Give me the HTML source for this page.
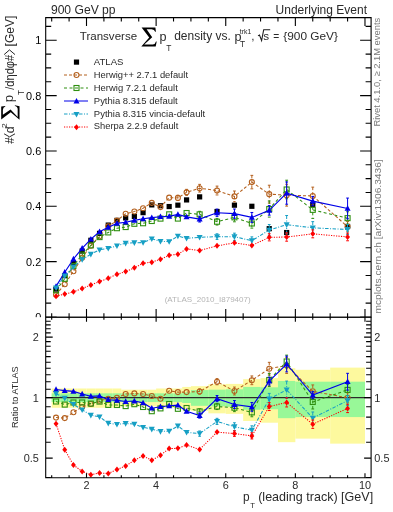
<!DOCTYPE html>
<html><head><meta charset="utf-8"><style>html,body{margin:0;padding:0;background:#fff;width:393px;height:512px;overflow:hidden}</style></head><body><svg width="393" height="512" viewBox="0 0 393 512" style="display:block;will-change:transform" font-family="&quot;Liberation Sans&quot;, sans-serif" fill="#2a2a2a">
<rect width="393" height="512" fill="#fff"/>
<rect x="53.44" y="286.49" width="5.2" height="5.2" fill="#000"/>
<rect x="62.14" y="273.08" width="5.2" height="5.2" fill="#000"/>
<rect x="70.85" y="260.36" width="5.2" height="5.2" fill="#000"/>
<rect x="79.55" y="248.47" width="5.2" height="5.2" fill="#000"/>
<rect x="88.25" y="237.69" width="5.2" height="5.2" fill="#000"/>
<rect x="96.95" y="230.77" width="5.2" height="5.2" fill="#000"/>
<rect x="105.66" y="222.48" width="5.2" height="5.2" fill="#000"/>
<rect x="114.36" y="217.78" width="5.2" height="5.2" fill="#000"/>
<rect x="123.06" y="215.29" width="5.2" height="5.2" fill="#000"/>
<rect x="131.76" y="213.91" width="5.2" height="5.2" fill="#000"/>
<rect x="140.47" y="210.04" width="5.2" height="5.2" fill="#000"/>
<rect x="149.17" y="202.29" width="5.2" height="5.2" fill="#000"/>
<rect x="157.87" y="203.12" width="5.2" height="5.2" fill="#000"/>
<rect x="166.57" y="203.95" width="5.2" height="5.2" fill="#000"/>
<rect x="175.28" y="202.57" width="5.2" height="5.2" fill="#000"/>
<rect x="183.98" y="197.32" width="5.2" height="5.2" fill="#000"/>
<rect x="197.03" y="194.28" width="5.2" height="5.2" fill="#000"/>
<rect x="214.44" y="208.93" width="5.2" height="5.2" fill="#000"/>
<rect x="231.84" y="202.57" width="5.2" height="5.2" fill="#000"/>
<rect x="249.25" y="203.68" width="5.2" height="5.2" fill="#000"/>
<rect x="266.65" y="226.07" width="5.2" height="5.2" fill="#000"/>
<rect x="284.06" y="229.94" width="5.2" height="5.2" fill="#000"/>
<rect x="310.16" y="201.74" width="5.2" height="5.2" fill="#000"/>
<rect x="344.98" y="223.86" width="5.2" height="5.2" fill="#000"/>
<polyline points="56.04,294.72 64.74,284.24 73.45,271.22 82.15,257.76 90.85,245.68 99.55,236.28 108.26,226.33 116.96,220.60 125.66,213.73 134.36,211.57 143.07,208.26 151.77,202.83 160.47,207.11 169.17,197.64 177.88,197.92 186.58,192.33 199.63,188.21 217.04,190.54 234.44,196.42 251.85,182.09 269.25,194.16 286.66,195.18 312.76,195.94 347.58,226.67" fill="none" stroke="#b4601e" stroke-width="1.05" stroke-dasharray="3,2"/>
<circle cx="56.04" cy="294.72" r="2.5" fill="none" stroke="#b4601e" stroke-width="1.1"/>
<circle cx="64.74" cy="284.24" r="2.5" fill="none" stroke="#b4601e" stroke-width="1.1"/>
<circle cx="73.45" cy="271.22" r="2.5" fill="none" stroke="#b4601e" stroke-width="1.1"/>
<circle cx="82.15" cy="257.76" r="2.5" fill="none" stroke="#b4601e" stroke-width="1.1"/>
<circle cx="90.85" cy="245.68" r="2.5" fill="none" stroke="#b4601e" stroke-width="1.1"/>
<circle cx="99.55" cy="236.28" r="2.5" fill="none" stroke="#b4601e" stroke-width="1.1"/>
<circle cx="108.26" cy="226.33" r="2.5" fill="none" stroke="#b4601e" stroke-width="1.1"/>
<circle cx="116.96" cy="220.60" r="2.5" fill="none" stroke="#b4601e" stroke-width="1.1"/>
<circle cx="125.66" cy="213.73" r="2.5" fill="none" stroke="#b4601e" stroke-width="1.1"/>
<circle cx="134.36" cy="211.57" r="2.5" fill="none" stroke="#b4601e" stroke-width="1.1"/>
<circle cx="143.07" cy="208.26" r="2.5" fill="none" stroke="#b4601e" stroke-width="1.1"/>
<circle cx="151.77" cy="202.83" r="2.5" fill="none" stroke="#b4601e" stroke-width="1.1"/>
<circle cx="160.47" cy="207.11" r="2.5" fill="none" stroke="#b4601e" stroke-width="1.1"/>
<circle cx="169.17" cy="197.64" r="2.5" fill="none" stroke="#b4601e" stroke-width="1.1"/>
<path d="M177.88,195.31V200.53" stroke="#b4601e" stroke-width="1" stroke-dasharray="3,2"/>
<path d="M176.48,195.31H179.28M176.48,200.53H179.28" stroke="#b4601e" stroke-width="1"/>
<circle cx="177.88" cy="197.92" r="2.5" fill="none" stroke="#b4601e" stroke-width="1.1"/>
<path d="M186.58,189.35V195.31" stroke="#b4601e" stroke-width="1" stroke-dasharray="3,2"/>
<path d="M185.18,189.35H187.98M185.18,195.31H187.98" stroke="#b4601e" stroke-width="1"/>
<circle cx="186.58" cy="192.33" r="2.5" fill="none" stroke="#b4601e" stroke-width="1.1"/>
<path d="M199.63,184.36V192.06" stroke="#b4601e" stroke-width="1" stroke-dasharray="3,2"/>
<path d="M198.23,184.36H201.03M198.23,192.06H201.03" stroke="#b4601e" stroke-width="1"/>
<circle cx="199.63" cy="188.21" r="2.5" fill="none" stroke="#b4601e" stroke-width="1.1"/>
<path d="M217.04,186.12V194.95" stroke="#b4601e" stroke-width="1" stroke-dasharray="3,2"/>
<path d="M215.64,186.12H218.44M215.64,194.95H218.44" stroke="#b4601e" stroke-width="1"/>
<circle cx="217.04" cy="190.54" r="2.5" fill="none" stroke="#b4601e" stroke-width="1.1"/>
<path d="M234.44,191.01V201.83" stroke="#b4601e" stroke-width="1" stroke-dasharray="3,2"/>
<path d="M233.04,191.01H235.84M233.04,201.83H235.84" stroke="#b4601e" stroke-width="1"/>
<circle cx="234.44" cy="196.42" r="2.5" fill="none" stroke="#b4601e" stroke-width="1.1"/>
<path d="M251.85,175.37V188.82" stroke="#b4601e" stroke-width="1" stroke-dasharray="3,2"/>
<path d="M250.45,175.37H253.25M250.45,188.82H253.25" stroke="#b4601e" stroke-width="1"/>
<circle cx="251.85" cy="182.09" r="2.5" fill="none" stroke="#b4601e" stroke-width="1.1"/>
<path d="M269.25,185.22V203.10" stroke="#b4601e" stroke-width="1" stroke-dasharray="3,2"/>
<path d="M267.85,185.22H270.65M267.85,203.10H270.65" stroke="#b4601e" stroke-width="1"/>
<circle cx="269.25" cy="194.16" r="2.5" fill="none" stroke="#b4601e" stroke-width="1.1"/>
<path d="M286.66,184.25V206.11" stroke="#b4601e" stroke-width="1" stroke-dasharray="3,2"/>
<path d="M285.26,184.25H288.06M285.26,206.11H288.06" stroke="#b4601e" stroke-width="1"/>
<circle cx="286.66" cy="195.18" r="2.5" fill="none" stroke="#b4601e" stroke-width="1.1"/>
<path d="M312.76,187.13V204.75" stroke="#b4601e" stroke-width="1" stroke-dasharray="3,2"/>
<path d="M311.37,187.13H314.16M311.37,204.75H314.16" stroke="#b4601e" stroke-width="1"/>
<circle cx="312.76" cy="195.94" r="2.5" fill="none" stroke="#b4601e" stroke-width="1.1"/>
<path d="M347.58,221.54V231.79" stroke="#b4601e" stroke-width="1" stroke-dasharray="3,2"/>
<path d="M346.18,221.54H348.98M346.18,231.79H348.98" stroke="#b4601e" stroke-width="1"/>
<circle cx="347.58" cy="226.67" r="2.5" fill="none" stroke="#b4601e" stroke-width="1.1"/>
<polyline points="56.04,290.29 64.74,278.83 73.45,265.89 82.15,254.65 90.85,245.36 99.55,237.10 108.26,232.42 116.96,228.20 125.66,227.05 134.36,223.80 143.07,223.25 151.77,221.01 160.47,218.63 169.17,214.33 177.88,218.59 186.58,213.02 199.63,214.38 217.04,221.72 234.44,217.35 251.85,223.48 269.25,209.03 286.66,189.49 312.76,209.86 347.58,218.15" fill="none" stroke="#2f8f10" stroke-width="1.05" stroke-dasharray="3,2.5"/>
<rect x="53.54" y="287.79" width="5" height="5" fill="none" stroke="#2f8f10" stroke-width="1.1"/>
<rect x="62.24" y="276.33" width="5" height="5" fill="none" stroke="#2f8f10" stroke-width="1.1"/>
<rect x="70.95" y="263.39" width="5" height="5" fill="none" stroke="#2f8f10" stroke-width="1.1"/>
<rect x="79.65" y="252.15" width="5" height="5" fill="none" stroke="#2f8f10" stroke-width="1.1"/>
<rect x="88.35" y="242.86" width="5" height="5" fill="none" stroke="#2f8f10" stroke-width="1.1"/>
<rect x="97.05" y="234.60" width="5" height="5" fill="none" stroke="#2f8f10" stroke-width="1.1"/>
<rect x="105.76" y="229.92" width="5" height="5" fill="none" stroke="#2f8f10" stroke-width="1.1"/>
<rect x="114.46" y="225.70" width="5" height="5" fill="none" stroke="#2f8f10" stroke-width="1.1"/>
<rect x="123.16" y="224.55" width="5" height="5" fill="none" stroke="#2f8f10" stroke-width="1.1"/>
<rect x="131.86" y="221.30" width="5" height="5" fill="none" stroke="#2f8f10" stroke-width="1.1"/>
<rect x="140.57" y="220.75" width="5" height="5" fill="none" stroke="#2f8f10" stroke-width="1.1"/>
<rect x="149.27" y="218.51" width="5" height="5" fill="none" stroke="#2f8f10" stroke-width="1.1"/>
<rect x="157.97" y="216.13" width="5" height="5" fill="none" stroke="#2f8f10" stroke-width="1.1"/>
<rect x="166.67" y="211.83" width="5" height="5" fill="none" stroke="#2f8f10" stroke-width="1.1"/>
<rect x="175.38" y="216.09" width="5" height="5" fill="none" stroke="#2f8f10" stroke-width="1.1"/>
<rect x="184.08" y="210.52" width="5" height="5" fill="none" stroke="#2f8f10" stroke-width="1.1"/>
<path d="M199.63,211.32V217.45" stroke="#2f8f10" stroke-width="1" stroke-dasharray="3,2.5"/>
<path d="M198.23,211.32H201.03M198.23,217.45H201.03" stroke="#2f8f10" stroke-width="1"/>
<rect x="197.13" y="211.88" width="5" height="5" fill="none" stroke="#2f8f10" stroke-width="1.1"/>
<path d="M217.04,218.39V225.04" stroke="#2f8f10" stroke-width="1" stroke-dasharray="3,2.5"/>
<path d="M215.64,218.39H218.44M215.64,225.04H218.44" stroke="#2f8f10" stroke-width="1"/>
<rect x="214.54" y="219.22" width="5" height="5" fill="none" stroke="#2f8f10" stroke-width="1.1"/>
<path d="M234.44,212.88V221.81" stroke="#2f8f10" stroke-width="1" stroke-dasharray="3,2.5"/>
<path d="M233.04,212.88H235.84M233.04,221.81H235.84" stroke="#2f8f10" stroke-width="1"/>
<rect x="231.94" y="214.85" width="5" height="5" fill="none" stroke="#2f8f10" stroke-width="1.1"/>
<path d="M251.85,218.83V228.14" stroke="#2f8f10" stroke-width="1" stroke-dasharray="3,2.5"/>
<path d="M250.45,218.83H253.25M250.45,228.14H253.25" stroke="#2f8f10" stroke-width="1"/>
<rect x="249.35" y="220.98" width="5" height="5" fill="none" stroke="#2f8f10" stroke-width="1.1"/>
<path d="M269.25,200.96V217.10" stroke="#2f8f10" stroke-width="1" stroke-dasharray="3,2.5"/>
<path d="M267.85,200.96H270.65M267.85,217.10H270.65" stroke="#2f8f10" stroke-width="1"/>
<rect x="266.75" y="206.53" width="5" height="5" fill="none" stroke="#2f8f10" stroke-width="1.1"/>
<path d="M286.66,180.21V198.77" stroke="#2f8f10" stroke-width="1" stroke-dasharray="3,2.5"/>
<path d="M285.26,180.21H288.06M285.26,198.77H288.06" stroke="#2f8f10" stroke-width="1"/>
<rect x="284.16" y="186.99" width="5" height="5" fill="none" stroke="#2f8f10" stroke-width="1.1"/>
<path d="M312.76,201.32V218.40" stroke="#2f8f10" stroke-width="1" stroke-dasharray="3,2.5"/>
<path d="M311.37,201.32H314.16M311.37,218.40H314.16" stroke="#2f8f10" stroke-width="1"/>
<rect x="310.26" y="207.36" width="5" height="5" fill="none" stroke="#2f8f10" stroke-width="1.1"/>
<path d="M347.58,211.75V224.55" stroke="#2f8f10" stroke-width="1" stroke-dasharray="3,2.5"/>
<path d="M346.18,211.75H348.98M346.18,224.55H348.98" stroke="#2f8f10" stroke-width="1"/>
<rect x="345.08" y="215.65" width="5" height="5" fill="none" stroke="#2f8f10" stroke-width="1.1"/>
<polyline points="56.04,286.41 64.74,272.26 73.45,259.01 82.15,248.31 90.85,239.14 99.55,231.74 108.26,227.25 116.96,223.42 125.66,222.20 134.36,220.33 143.07,218.76 151.77,217.67 160.47,216.70 169.17,216.42 177.88,214.46 186.58,216.87 199.63,219.07 217.04,212.73 234.44,213.64 251.85,217.43 269.25,210.38 286.66,193.08 312.76,201.08 347.58,208.45" fill="none" stroke="#0000e8" stroke-width="1.15"/>
<path d="M56.04,283.21 L59.04,288.81 L53.04,288.81Z" fill="#0000e8"/>
<path d="M64.74,269.06 L67.74,274.66 L61.74,274.66Z" fill="#0000e8"/>
<path d="M73.45,255.81 L76.45,261.41 L70.45,261.41Z" fill="#0000e8"/>
<path d="M82.15,245.11 L85.15,250.71 L79.15,250.71Z" fill="#0000e8"/>
<path d="M90.85,235.94 L93.85,241.54 L87.85,241.54Z" fill="#0000e8"/>
<path d="M99.55,228.54 L102.55,234.14 L96.55,234.14Z" fill="#0000e8"/>
<path d="M108.26,224.05 L111.26,229.65 L105.26,229.65Z" fill="#0000e8"/>
<path d="M116.96,220.22 L119.96,225.82 L113.96,225.82Z" fill="#0000e8"/>
<path d="M125.66,219.00 L128.66,224.60 L122.66,224.60Z" fill="#0000e8"/>
<path d="M134.36,217.13 L137.36,222.73 L131.36,222.73Z" fill="#0000e8"/>
<path d="M143.07,215.56 L146.07,221.16 L140.07,221.16Z" fill="#0000e8"/>
<path d="M151.77,214.47 L154.77,220.07 L148.77,220.07Z" fill="#0000e8"/>
<path d="M160.47,213.50 L163.47,219.10 L157.47,219.10Z" fill="#0000e8"/>
<path d="M169.17,213.22 L172.17,218.82 L166.17,218.82Z" fill="#0000e8"/>
<path d="M177.88,211.26 L180.88,216.86 L174.88,216.86Z" fill="#0000e8"/>
<path d="M186.58,213.67 L189.58,219.27 L183.58,219.27Z" fill="#0000e8"/>
<path d="M199.63,216.15V222.00" stroke="#0000e8" stroke-width="1"/>
<path d="M198.23,216.15H201.03M198.23,222.00H201.03" stroke="#0000e8" stroke-width="1"/>
<path d="M199.63,215.87 L202.63,221.47 L196.63,221.47Z" fill="#0000e8"/>
<path d="M217.04,209.09V216.36" stroke="#0000e8" stroke-width="1"/>
<path d="M215.64,209.09H218.44M215.64,216.36H218.44" stroke="#0000e8" stroke-width="1"/>
<path d="M217.04,209.53 L220.04,215.13 L214.04,215.13Z" fill="#0000e8"/>
<path d="M234.44,209.01V218.27" stroke="#0000e8" stroke-width="1"/>
<path d="M233.04,209.01H235.84M233.04,218.27H235.84" stroke="#0000e8" stroke-width="1"/>
<path d="M234.44,210.44 L237.44,216.04 L231.44,216.04Z" fill="#0000e8"/>
<path d="M251.85,212.47V222.39" stroke="#0000e8" stroke-width="1"/>
<path d="M250.45,212.47H253.25M250.45,222.39H253.25" stroke="#0000e8" stroke-width="1"/>
<path d="M251.85,214.23 L254.85,219.83 L248.85,219.83Z" fill="#0000e8"/>
<path d="M269.25,205.60V215.16" stroke="#0000e8" stroke-width="1"/>
<path d="M267.85,205.60H270.65M267.85,215.16H270.65" stroke="#0000e8" stroke-width="1"/>
<path d="M269.25,207.18 L272.25,212.78 L266.25,212.78Z" fill="#0000e8"/>
<path d="M286.66,181.96V204.19" stroke="#0000e8" stroke-width="1"/>
<path d="M285.26,181.96H288.06M285.26,204.19H288.06" stroke="#0000e8" stroke-width="1"/>
<path d="M286.66,189.88 L289.66,195.48 L283.66,195.48Z" fill="#0000e8"/>
<path d="M312.76,196.46V205.70" stroke="#0000e8" stroke-width="1"/>
<path d="M311.37,196.46H314.16M311.37,205.70H314.16" stroke="#0000e8" stroke-width="1"/>
<path d="M312.76,197.88 L315.76,203.48 L309.76,203.48Z" fill="#0000e8"/>
<path d="M347.58,198.07V218.83" stroke="#0000e8" stroke-width="1"/>
<path d="M346.18,198.07H348.98M346.18,218.83H348.98" stroke="#0000e8" stroke-width="1"/>
<path d="M347.58,205.25 L350.58,210.85 L344.58,210.85Z" fill="#0000e8"/>
<polyline points="56.04,287.83 64.74,275.96 73.45,266.98 82.15,259.62 90.85,254.22 99.55,249.81 108.26,248.34 116.96,245.82 125.66,243.23 134.36,242.72 143.07,242.62 151.77,238.82 160.47,241.41 169.17,241.63 177.88,236.12 186.58,238.28 199.63,237.34 217.04,236.61 234.44,236.76 251.85,240.66 269.25,230.07 286.66,224.69 312.76,227.84 347.58,229.51" fill="none" stroke="#169fc4" stroke-width="1.05" stroke-dasharray="3.5,1.5,1,1.5"/>
<path d="M56.04,291.03 L59.04,285.43 L53.04,285.43Z" fill="#169fc4"/>
<path d="M64.74,279.16 L67.74,273.56 L61.74,273.56Z" fill="#169fc4"/>
<path d="M73.45,270.18 L76.45,264.58 L70.45,264.58Z" fill="#169fc4"/>
<path d="M82.15,262.82 L85.15,257.22 L79.15,257.22Z" fill="#169fc4"/>
<path d="M90.85,257.42 L93.85,251.82 L87.85,251.82Z" fill="#169fc4"/>
<path d="M99.55,253.01 L102.55,247.41 L96.55,247.41Z" fill="#169fc4"/>
<path d="M108.26,251.54 L111.26,245.94 L105.26,245.94Z" fill="#169fc4"/>
<path d="M116.96,249.02 L119.96,243.42 L113.96,243.42Z" fill="#169fc4"/>
<path d="M125.66,246.43 L128.66,240.83 L122.66,240.83Z" fill="#169fc4"/>
<path d="M134.36,245.92 L137.36,240.32 L131.36,240.32Z" fill="#169fc4"/>
<path d="M143.07,245.82 L146.07,240.22 L140.07,240.22Z" fill="#169fc4"/>
<path d="M151.77,242.02 L154.77,236.42 L148.77,236.42Z" fill="#169fc4"/>
<path d="M160.47,244.61 L163.47,239.01 L157.47,239.01Z" fill="#169fc4"/>
<path d="M169.17,244.83 L172.17,239.23 L166.17,239.23Z" fill="#169fc4"/>
<path d="M177.88,239.32 L180.88,233.72 L174.88,233.72Z" fill="#169fc4"/>
<path d="M186.58,241.48 L189.58,235.88 L183.58,235.88Z" fill="#169fc4"/>
<path d="M199.63,240.54 L202.63,234.94 L196.63,234.94Z" fill="#169fc4"/>
<path d="M217.04,233.81V239.41" stroke="#169fc4" stroke-width="1" stroke-dasharray="3.5,1.5,1,1.5"/>
<path d="M215.64,233.81H218.44M215.64,239.41H218.44" stroke="#169fc4" stroke-width="1"/>
<path d="M217.04,239.81 L220.04,234.21 L214.04,234.21Z" fill="#169fc4"/>
<path d="M234.44,233.17V240.36" stroke="#169fc4" stroke-width="1" stroke-dasharray="3.5,1.5,1,1.5"/>
<path d="M233.04,233.17H235.84M233.04,240.36H235.84" stroke="#169fc4" stroke-width="1"/>
<path d="M234.44,239.96 L237.44,234.36 L231.44,234.36Z" fill="#169fc4"/>
<path d="M251.85,236.86V244.46" stroke="#169fc4" stroke-width="1" stroke-dasharray="3.5,1.5,1,1.5"/>
<path d="M250.45,236.86H253.25M250.45,244.46H253.25" stroke="#169fc4" stroke-width="1"/>
<path d="M251.85,243.86 L254.85,238.26 L248.85,238.26Z" fill="#169fc4"/>
<path d="M269.25,224.53V235.61" stroke="#169fc4" stroke-width="1" stroke-dasharray="3.5,1.5,1,1.5"/>
<path d="M267.85,224.53H270.65M267.85,235.61H270.65" stroke="#169fc4" stroke-width="1"/>
<path d="M269.25,233.27 L272.25,227.67 L266.25,227.67Z" fill="#169fc4"/>
<path d="M286.66,215.50V233.88" stroke="#169fc4" stroke-width="1" stroke-dasharray="3.5,1.5,1,1.5"/>
<path d="M285.26,215.50H288.06M285.26,233.88H288.06" stroke="#169fc4" stroke-width="1"/>
<path d="M286.66,227.89 L289.66,222.29 L283.66,222.29Z" fill="#169fc4"/>
<path d="M312.76,221.63V234.05" stroke="#169fc4" stroke-width="1" stroke-dasharray="3.5,1.5,1,1.5"/>
<path d="M311.37,221.63H314.16M311.37,234.05H314.16" stroke="#169fc4" stroke-width="1"/>
<path d="M312.76,231.04 L315.76,225.44 L309.76,225.44Z" fill="#169fc4"/>
<path d="M347.58,224.54V234.47" stroke="#169fc4" stroke-width="1" stroke-dasharray="3.5,1.5,1,1.5"/>
<path d="M346.18,224.54H348.98M346.18,234.47H348.98" stroke="#169fc4" stroke-width="1"/>
<path d="M347.58,232.71 L350.58,227.11 L344.58,227.11Z" fill="#169fc4"/>
<polyline points="56.04,296.22 64.74,294.07 73.45,291.82 82.15,288.50 90.85,285.05 99.55,281.56 108.26,278.24 116.96,274.33 125.66,271.52 134.36,267.80 143.07,263.29 151.77,262.14 160.47,259.35 169.17,255.25 177.88,254.26 186.58,248.89 199.63,250.54 217.04,245.84 234.44,242.83 251.85,245.46 269.25,237.29 286.66,237.04 312.76,233.83 347.58,236.95" fill="none" stroke="#ff0000" stroke-width="1.05" stroke-dasharray="1.2,1.3"/>
<path d="M56.04,293.22 L58.49,296.22 L56.04,299.22 L53.59,296.22Z" fill="#ff0000"/>
<path d="M64.74,291.07 L67.19,294.07 L64.74,297.07 L62.29,294.07Z" fill="#ff0000"/>
<path d="M73.45,288.82 L75.90,291.82 L73.45,294.82 L71.00,291.82Z" fill="#ff0000"/>
<path d="M82.15,285.50 L84.60,288.50 L82.15,291.50 L79.70,288.50Z" fill="#ff0000"/>
<path d="M90.85,282.05 L93.30,285.05 L90.85,288.05 L88.40,285.05Z" fill="#ff0000"/>
<path d="M99.55,278.56 L102.00,281.56 L99.55,284.56 L97.10,281.56Z" fill="#ff0000"/>
<path d="M108.26,275.24 L110.71,278.24 L108.26,281.24 L105.81,278.24Z" fill="#ff0000"/>
<path d="M116.96,271.33 L119.41,274.33 L116.96,277.33 L114.51,274.33Z" fill="#ff0000"/>
<path d="M125.66,268.52 L128.11,271.52 L125.66,274.52 L123.21,271.52Z" fill="#ff0000"/>
<path d="M134.36,264.80 L136.81,267.80 L134.36,270.80 L131.91,267.80Z" fill="#ff0000"/>
<path d="M143.07,260.29 L145.52,263.29 L143.07,266.29 L140.62,263.29Z" fill="#ff0000"/>
<path d="M151.77,259.14 L154.22,262.14 L151.77,265.14 L149.32,262.14Z" fill="#ff0000"/>
<path d="M160.47,256.35 L162.92,259.35 L160.47,262.35 L158.02,259.35Z" fill="#ff0000"/>
<path d="M169.17,252.25 L171.62,255.25 L169.17,258.25 L166.72,255.25Z" fill="#ff0000"/>
<path d="M177.88,251.26 L180.33,254.26 L177.88,257.26 L175.43,254.26Z" fill="#ff0000"/>
<path d="M186.58,245.89 L189.03,248.89 L186.58,251.89 L184.13,248.89Z" fill="#ff0000"/>
<path d="M199.63,247.54 L202.08,250.54 L199.63,253.54 L197.18,250.54Z" fill="#ff0000"/>
<path d="M217.04,242.84 L219.49,245.84 L217.04,248.84 L214.59,245.84Z" fill="#ff0000"/>
<path d="M234.44,239.83 L236.89,242.83 L234.44,245.83 L231.99,242.83Z" fill="#ff0000"/>
<path d="M251.85,242.46 L254.30,245.46 L251.85,248.46 L249.40,245.46Z" fill="#ff0000"/>
<path d="M269.25,233.72V240.86" stroke="#ff0000" stroke-width="1" stroke-dasharray="1.2,1.3"/>
<path d="M267.85,233.72H270.65M267.85,240.86H270.65" stroke="#ff0000" stroke-width="1"/>
<path d="M269.25,234.29 L271.70,237.29 L269.25,240.29 L266.80,237.29Z" fill="#ff0000"/>
<path d="M286.66,232.90V241.18" stroke="#ff0000" stroke-width="1" stroke-dasharray="1.2,1.3"/>
<path d="M285.26,232.90H288.06M285.26,241.18H288.06" stroke="#ff0000" stroke-width="1"/>
<path d="M286.66,234.04 L289.11,237.04 L286.66,240.04 L284.21,237.04Z" fill="#ff0000"/>
<path d="M312.76,229.86V237.80" stroke="#ff0000" stroke-width="1" stroke-dasharray="1.2,1.3"/>
<path d="M311.37,229.86H314.16M311.37,237.80H314.16" stroke="#ff0000" stroke-width="1"/>
<path d="M312.76,230.83 L315.21,233.83 L312.76,236.83 L310.31,233.83Z" fill="#ff0000"/>
<path d="M347.58,233.13V240.78" stroke="#ff0000" stroke-width="1" stroke-dasharray="1.2,1.3"/>
<path d="M346.18,233.13H348.98M346.18,240.78H348.98" stroke="#ff0000" stroke-width="1"/>
<path d="M347.58,233.95 L350.03,236.95 L347.58,239.95 L345.13,236.95Z" fill="#ff0000"/>
<path d="M45.7,17.6H371.1V317.2H45.7Z M45.7,317.00h11M371.1,317.00h-11 M45.7,303.16h5.5M371.1,303.16h-5.5 M45.7,289.32h5.5M371.1,289.32h-5.5 M45.7,275.49h5.5M371.1,275.49h-5.5 M45.7,261.65h11M371.1,261.65h-11 M45.7,247.81h5.5M371.1,247.81h-5.5 M45.7,233.97h5.5M371.1,233.97h-5.5 M45.7,220.14h5.5M371.1,220.14h-5.5 M45.7,206.30h11M371.1,206.30h-11 M45.7,192.46h5.5M371.1,192.46h-5.5 M45.7,178.62h5.5M371.1,178.62h-5.5 M45.7,164.79h5.5M371.1,164.79h-5.5 M45.7,150.95h11M371.1,150.95h-11 M45.7,137.11h5.5M371.1,137.11h-5.5 M45.7,123.27h5.5M371.1,123.27h-5.5 M45.7,109.44h5.5M371.1,109.44h-5.5 M45.7,95.60h11M371.1,95.60h-11 M45.7,81.76h5.5M371.1,81.76h-5.5 M45.7,67.92h5.5M371.1,67.92h-5.5 M45.7,54.09h5.5M371.1,54.09h-5.5 M45.7,40.25h11M371.1,40.25h-11 M45.7,26.41h5.5M371.1,26.41h-5.5 M51.69,17.6v4M51.69,317.2v-4 M69.09,17.6v4M69.09,317.2v-4 M86.50,17.6v8.3M86.50,317.2v-8.3 M103.91,17.6v4M103.91,317.2v-4 M121.31,17.6v4M121.31,317.2v-4 M138.72,17.6v4M138.72,317.2v-4 M156.12,17.6v8.3M156.12,317.2v-8.3 M173.53,17.6v4M173.53,317.2v-4 M190.93,17.6v4M190.93,317.2v-4 M208.34,17.6v4M208.34,317.2v-4 M225.74,17.6v8.3M225.74,317.2v-8.3 M243.15,17.6v4M243.15,317.2v-4 M260.55,17.6v4M260.55,317.2v-4 M277.96,17.6v4M277.96,317.2v-4 M295.36,17.6v8.3M295.36,317.2v-8.3 M312.76,17.6v4M312.76,317.2v-4 M330.17,17.6v4M330.17,317.2v-4 M347.58,17.6v4M347.58,317.2v-4 M364.98,17.6v8.3M364.98,317.2v-8.3" fill="none" stroke="#000" stroke-width="1.1"/>
<text x="41.2" y="44.15" font-size="10.9" text-anchor="end" fill="#000">1</text>
<text x="41.2" y="99.50" font-size="10.9" text-anchor="end" fill="#000">0.8</text>
<text x="41.2" y="154.85" font-size="10.9" text-anchor="end" fill="#000">0.6</text>
<text x="41.2" y="210.20" font-size="10.9" text-anchor="end" fill="#000">0.4</text>
<text x="41.2" y="265.55" font-size="10.9" text-anchor="end" fill="#000">0.2</text>
<text x="41.2" y="320.90" font-size="10.9" text-anchor="end" fill="#000">0</text>
<rect x="0" y="317.80" width="393" height="194.20" fill="#fff"/>
<rect x="0" y="317.20" width="45.7" height="194.80" fill="#fff"/>
<rect x="51.69" y="388.49" width="8.70" height="19.28" fill="#fdf99e"/>
<rect x="60.39" y="388.49" width="8.70" height="19.28" fill="#fdf99e"/>
<rect x="69.09" y="388.49" width="8.70" height="19.28" fill="#fdf99e"/>
<rect x="77.80" y="388.49" width="8.70" height="19.28" fill="#fdf99e"/>
<rect x="86.50" y="388.49" width="8.70" height="19.28" fill="#fdf99e"/>
<rect x="95.20" y="388.49" width="8.70" height="19.28" fill="#fdf99e"/>
<rect x="103.91" y="388.49" width="8.70" height="19.28" fill="#fdf99e"/>
<rect x="112.61" y="388.49" width="8.70" height="19.28" fill="#fdf99e"/>
<rect x="121.31" y="389.68" width="8.70" height="16.63" fill="#fdf99e"/>
<rect x="130.01" y="389.68" width="8.70" height="16.63" fill="#fdf99e"/>
<rect x="138.72" y="389.68" width="8.70" height="16.63" fill="#fdf99e"/>
<rect x="147.42" y="389.68" width="8.70" height="16.63" fill="#fdf99e"/>
<rect x="156.12" y="388.49" width="8.70" height="19.28" fill="#fdf99e"/>
<rect x="164.82" y="388.49" width="8.70" height="19.28" fill="#fdf99e"/>
<rect x="173.53" y="388.49" width="8.70" height="19.28" fill="#fdf99e"/>
<rect x="182.23" y="386.93" width="8.70" height="22.82" fill="#fdf99e"/>
<rect x="190.93" y="386.16" width="17.41" height="24.60" fill="#fdf99e"/>
<rect x="208.34" y="384.27" width="17.41" height="29.07" fill="#fdf99e"/>
<rect x="225.74" y="383.90" width="17.41" height="29.97" fill="#fdf99e"/>
<rect x="243.15" y="379.18" width="17.41" height="41.80" fill="#fdf99e"/>
<rect x="260.55" y="378.12" width="17.41" height="44.59" fill="#fdf99e"/>
<rect x="277.96" y="368.23" width="17.40" height="73.95" fill="#fdf99e"/>
<rect x="295.36" y="369.80" width="34.81" height="68.82" fill="#fdf99e"/>
<rect x="330.17" y="367.61" width="34.81" height="76.04" fill="#fdf99e"/>
<rect x="51.69" y="393.34" width="8.70" height="8.74" fill="#98f898"/>
<rect x="60.39" y="393.34" width="8.70" height="8.74" fill="#98f898"/>
<rect x="69.09" y="393.34" width="8.70" height="8.74" fill="#98f898"/>
<rect x="77.80" y="393.34" width="8.70" height="8.74" fill="#98f898"/>
<rect x="86.50" y="393.34" width="8.70" height="8.74" fill="#98f898"/>
<rect x="95.20" y="393.34" width="8.70" height="8.74" fill="#98f898"/>
<rect x="103.91" y="393.34" width="8.70" height="8.74" fill="#98f898"/>
<rect x="112.61" y="393.34" width="8.70" height="8.74" fill="#98f898"/>
<rect x="121.31" y="393.34" width="8.70" height="8.74" fill="#98f898"/>
<rect x="130.01" y="393.34" width="8.70" height="8.74" fill="#98f898"/>
<rect x="138.72" y="393.34" width="8.70" height="8.74" fill="#98f898"/>
<rect x="147.42" y="393.34" width="8.70" height="8.74" fill="#98f898"/>
<rect x="156.12" y="393.34" width="8.70" height="8.74" fill="#98f898"/>
<rect x="164.82" y="393.34" width="8.70" height="8.74" fill="#98f898"/>
<rect x="173.53" y="393.34" width="8.70" height="8.74" fill="#98f898"/>
<rect x="182.23" y="392.51" width="8.70" height="10.49" fill="#98f898"/>
<rect x="190.93" y="390.08" width="17.41" height="15.75" fill="#98f898"/>
<rect x="208.34" y="389.68" width="17.41" height="16.63" fill="#98f898"/>
<rect x="225.74" y="389.28" width="17.41" height="17.52" fill="#98f898"/>
<rect x="243.15" y="386.93" width="17.41" height="22.82" fill="#98f898"/>
<rect x="260.55" y="387.32" width="17.41" height="21.94" fill="#98f898"/>
<rect x="277.96" y="380.96" width="17.40" height="37.21" fill="#98f898"/>
<rect x="295.36" y="381.69" width="34.81" height="35.39" fill="#98f898"/>
<rect x="330.17" y="381.69" width="34.81" height="35.39" fill="#98f898"/>
<path d="M45.7,397.60H371.1" stroke="#2a2a2a" stroke-width="1.2"/>
<clipPath id="rc"><rect x="45.7" y="317.2" width="325.40000000000003" height="160.60000000000002"/></clipPath>
<g clip-path="url(#rc)">
<polyline points="56.04,417.60 64.74,418.10 73.45,412.20 82.15,407.00 90.85,404.00 99.55,400.70 108.26,398.80 116.96,397.80 125.66,394.00 134.36,393.40 143.07,394.00 151.77,396.00 160.47,398.70 169.17,390.80 177.88,392.10 186.58,392.10 199.63,391.50 217.04,381.70 234.44,391.00 251.85,380.30 269.25,368.70 286.66,365.50 312.76,391.30 347.58,397.80" fill="none" stroke="#b4601e" stroke-width="1.05" stroke-dasharray="3,2"/>
<circle cx="56.04" cy="417.60" r="2.5" fill="none" stroke="#b4601e" stroke-width="1.1"/>
<circle cx="64.74" cy="418.10" r="2.5" fill="none" stroke="#b4601e" stroke-width="1.1"/>
<circle cx="73.45" cy="412.20" r="2.5" fill="none" stroke="#b4601e" stroke-width="1.1"/>
<circle cx="82.15" cy="407.00" r="2.5" fill="none" stroke="#b4601e" stroke-width="1.1"/>
<circle cx="90.85" cy="404.00" r="2.5" fill="none" stroke="#b4601e" stroke-width="1.1"/>
<circle cx="99.55" cy="400.70" r="2.5" fill="none" stroke="#b4601e" stroke-width="1.1"/>
<circle cx="108.26" cy="398.80" r="2.5" fill="none" stroke="#b4601e" stroke-width="1.1"/>
<circle cx="116.96" cy="397.80" r="2.5" fill="none" stroke="#b4601e" stroke-width="1.1"/>
<circle cx="125.66" cy="394.00" r="2.5" fill="none" stroke="#b4601e" stroke-width="1.1"/>
<circle cx="134.36" cy="393.40" r="2.5" fill="none" stroke="#b4601e" stroke-width="1.1"/>
<circle cx="143.07" cy="394.00" r="2.5" fill="none" stroke="#b4601e" stroke-width="1.1"/>
<circle cx="151.77" cy="396.00" r="2.5" fill="none" stroke="#b4601e" stroke-width="1.1"/>
<circle cx="160.47" cy="398.70" r="2.5" fill="none" stroke="#b4601e" stroke-width="1.1"/>
<circle cx="169.17" cy="390.80" r="2.5" fill="none" stroke="#b4601e" stroke-width="1.1"/>
<circle cx="177.88" cy="392.10" r="2.5" fill="none" stroke="#b4601e" stroke-width="1.1"/>
<circle cx="186.58" cy="392.10" r="2.5" fill="none" stroke="#b4601e" stroke-width="1.1"/>
<path d="M199.63,388.88V394.12" stroke="#b4601e" stroke-width="1" stroke-dasharray="3,2"/>
<path d="M198.23,388.88H201.03M198.23,394.12H201.03" stroke="#b4601e" stroke-width="1"/>
<circle cx="199.63" cy="391.50" r="2.5" fill="none" stroke="#b4601e" stroke-width="1.1"/>
<path d="M217.04,378.64V384.76" stroke="#b4601e" stroke-width="1" stroke-dasharray="3,2"/>
<path d="M215.64,378.64H218.44M215.64,384.76H218.44" stroke="#b4601e" stroke-width="1"/>
<circle cx="217.04" cy="381.70" r="2.5" fill="none" stroke="#b4601e" stroke-width="1.1"/>
<path d="M234.44,387.07V394.93" stroke="#b4601e" stroke-width="1" stroke-dasharray="3,2"/>
<path d="M233.04,387.07H235.84M233.04,394.93H235.84" stroke="#b4601e" stroke-width="1"/>
<circle cx="234.44" cy="391.00" r="2.5" fill="none" stroke="#b4601e" stroke-width="1.1"/>
<path d="M251.85,375.94V384.67" stroke="#b4601e" stroke-width="1" stroke-dasharray="3,2"/>
<path d="M250.45,375.94H253.25M250.45,384.67H253.25" stroke="#b4601e" stroke-width="1"/>
<circle cx="251.85" cy="380.30" r="2.5" fill="none" stroke="#b4601e" stroke-width="1.1"/>
<path d="M269.25,362.33V375.07" stroke="#b4601e" stroke-width="1" stroke-dasharray="3,2"/>
<path d="M267.85,362.33H270.65M267.85,375.07H270.65" stroke="#b4601e" stroke-width="1"/>
<circle cx="269.25" cy="368.70" r="2.5" fill="none" stroke="#b4601e" stroke-width="1.1"/>
<path d="M286.66,357.64V373.36" stroke="#b4601e" stroke-width="1" stroke-dasharray="3,2"/>
<path d="M285.26,357.64H288.06M285.26,373.36H288.06" stroke="#b4601e" stroke-width="1"/>
<circle cx="286.66" cy="365.50" r="2.5" fill="none" stroke="#b4601e" stroke-width="1.1"/>
<path d="M312.76,384.93V397.67" stroke="#b4601e" stroke-width="1" stroke-dasharray="3,2"/>
<path d="M311.37,384.93H314.16M311.37,397.67H314.16" stroke="#b4601e" stroke-width="1"/>
<circle cx="312.76" cy="391.30" r="2.5" fill="none" stroke="#b4601e" stroke-width="1.1"/>
<path d="M347.58,392.82V402.78" stroke="#b4601e" stroke-width="1" stroke-dasharray="3,2"/>
<path d="M346.18,392.82H348.98M346.18,402.78H348.98" stroke="#b4601e" stroke-width="1"/>
<circle cx="347.58" cy="397.80" r="2.5" fill="none" stroke="#b4601e" stroke-width="1.1"/>
<polyline points="56.04,401.50 64.74,404.60 73.45,402.50 82.15,402.50 90.85,403.60 99.55,401.60 108.26,404.90 116.96,405.00 125.66,406.10 134.36,404.20 143.07,407.00 151.77,411.20 160.47,408.40 169.17,404.00 177.88,408.80 186.58,408.00 199.63,411.40 217.04,406.50 234.44,407.70 251.85,412.40 269.25,380.00 286.66,361.50 312.76,402.00 347.58,389.90" fill="none" stroke="#2f8f10" stroke-width="1.05" stroke-dasharray="3,2.5"/>
<rect x="53.54" y="399.00" width="5" height="5" fill="none" stroke="#2f8f10" stroke-width="1.1"/>
<rect x="62.24" y="402.10" width="5" height="5" fill="none" stroke="#2f8f10" stroke-width="1.1"/>
<rect x="70.95" y="400.00" width="5" height="5" fill="none" stroke="#2f8f10" stroke-width="1.1"/>
<rect x="79.65" y="400.00" width="5" height="5" fill="none" stroke="#2f8f10" stroke-width="1.1"/>
<rect x="88.35" y="401.10" width="5" height="5" fill="none" stroke="#2f8f10" stroke-width="1.1"/>
<rect x="97.05" y="399.10" width="5" height="5" fill="none" stroke="#2f8f10" stroke-width="1.1"/>
<rect x="105.76" y="402.40" width="5" height="5" fill="none" stroke="#2f8f10" stroke-width="1.1"/>
<rect x="114.46" y="402.50" width="5" height="5" fill="none" stroke="#2f8f10" stroke-width="1.1"/>
<rect x="123.16" y="403.60" width="5" height="5" fill="none" stroke="#2f8f10" stroke-width="1.1"/>
<rect x="131.86" y="401.70" width="5" height="5" fill="none" stroke="#2f8f10" stroke-width="1.1"/>
<rect x="140.57" y="404.50" width="5" height="5" fill="none" stroke="#2f8f10" stroke-width="1.1"/>
<rect x="149.27" y="408.70" width="5" height="5" fill="none" stroke="#2f8f10" stroke-width="1.1"/>
<rect x="157.97" y="405.90" width="5" height="5" fill="none" stroke="#2f8f10" stroke-width="1.1"/>
<rect x="166.67" y="401.50" width="5" height="5" fill="none" stroke="#2f8f10" stroke-width="1.1"/>
<rect x="175.38" y="406.30" width="5" height="5" fill="none" stroke="#2f8f10" stroke-width="1.1"/>
<rect x="184.08" y="405.50" width="5" height="5" fill="none" stroke="#2f8f10" stroke-width="1.1"/>
<path d="M199.63,408.78V414.02" stroke="#2f8f10" stroke-width="1" stroke-dasharray="3,2.5"/>
<path d="M198.23,408.78H201.03M198.23,414.02H201.03" stroke="#2f8f10" stroke-width="1"/>
<rect x="197.13" y="408.90" width="5" height="5" fill="none" stroke="#2f8f10" stroke-width="1.1"/>
<path d="M217.04,403.44V409.56" stroke="#2f8f10" stroke-width="1" stroke-dasharray="3,2.5"/>
<path d="M215.64,403.44H218.44M215.64,409.56H218.44" stroke="#2f8f10" stroke-width="1"/>
<rect x="214.54" y="404.00" width="5" height="5" fill="none" stroke="#2f8f10" stroke-width="1.1"/>
<path d="M234.44,403.77V411.63" stroke="#2f8f10" stroke-width="1" stroke-dasharray="3,2.5"/>
<path d="M233.04,403.77H235.84M233.04,411.63H235.84" stroke="#2f8f10" stroke-width="1"/>
<rect x="231.94" y="405.20" width="5" height="5" fill="none" stroke="#2f8f10" stroke-width="1.1"/>
<path d="M251.85,408.03V416.76" stroke="#2f8f10" stroke-width="1" stroke-dasharray="3,2.5"/>
<path d="M250.45,408.03H253.25M250.45,416.76H253.25" stroke="#2f8f10" stroke-width="1"/>
<rect x="249.35" y="409.90" width="5" height="5" fill="none" stroke="#2f8f10" stroke-width="1.1"/>
<path d="M269.25,373.45V386.55" stroke="#2f8f10" stroke-width="1" stroke-dasharray="3,2.5"/>
<path d="M267.85,373.45H270.65M267.85,386.55H270.65" stroke="#2f8f10" stroke-width="1"/>
<rect x="266.75" y="377.50" width="5" height="5" fill="none" stroke="#2f8f10" stroke-width="1.1"/>
<path d="M286.66,355.13V367.87" stroke="#2f8f10" stroke-width="1" stroke-dasharray="3,2.5"/>
<path d="M285.26,355.13H288.06M285.26,367.87H288.06" stroke="#2f8f10" stroke-width="1"/>
<rect x="284.16" y="359.00" width="5" height="5" fill="none" stroke="#2f8f10" stroke-width="1.1"/>
<path d="M312.76,395.02V408.98" stroke="#2f8f10" stroke-width="1" stroke-dasharray="3,2.5"/>
<path d="M311.37,395.02H314.16M311.37,408.98H314.16" stroke="#2f8f10" stroke-width="1"/>
<rect x="310.26" y="399.50" width="5" height="5" fill="none" stroke="#2f8f10" stroke-width="1.1"/>
<path d="M347.58,384.23V395.57" stroke="#2f8f10" stroke-width="1" stroke-dasharray="3,2.5"/>
<path d="M346.18,384.23H348.98M346.18,395.57H348.98" stroke="#2f8f10" stroke-width="1"/>
<rect x="345.08" y="387.40" width="5" height="5" fill="none" stroke="#2f8f10" stroke-width="1.1"/>
<polyline points="56.04,389.50 64.74,390.60 73.45,391.40 82.15,394.00 90.85,396.30 99.55,395.90 108.26,399.70 116.96,400.40 125.66,401.50 134.36,401.00 143.07,402.90 151.77,408.20 160.47,406.70 169.17,405.80 177.88,405.20 186.58,411.30 199.63,415.50 217.04,398.60 234.44,404.50 251.85,406.90 269.25,381.10 286.66,364.00 312.76,395.10 347.58,381.70" fill="none" stroke="#0000e8" stroke-width="1.15"/>
<path d="M56.04,386.30 L59.04,391.90 L53.04,391.90Z" fill="#0000e8"/>
<path d="M64.74,387.40 L67.74,393.00 L61.74,393.00Z" fill="#0000e8"/>
<path d="M73.45,388.20 L76.45,393.80 L70.45,393.80Z" fill="#0000e8"/>
<path d="M82.15,390.80 L85.15,396.40 L79.15,396.40Z" fill="#0000e8"/>
<path d="M90.85,393.10 L93.85,398.70 L87.85,398.70Z" fill="#0000e8"/>
<path d="M99.55,392.70 L102.55,398.30 L96.55,398.30Z" fill="#0000e8"/>
<path d="M108.26,396.50 L111.26,402.10 L105.26,402.10Z" fill="#0000e8"/>
<path d="M116.96,397.20 L119.96,402.80 L113.96,402.80Z" fill="#0000e8"/>
<path d="M125.66,398.30 L128.66,403.90 L122.66,403.90Z" fill="#0000e8"/>
<path d="M134.36,397.80 L137.36,403.40 L131.36,403.40Z" fill="#0000e8"/>
<path d="M143.07,399.70 L146.07,405.30 L140.07,405.30Z" fill="#0000e8"/>
<path d="M151.77,405.00 L154.77,410.60 L148.77,410.60Z" fill="#0000e8"/>
<path d="M160.47,403.50 L163.47,409.10 L157.47,409.10Z" fill="#0000e8"/>
<path d="M169.17,402.60 L172.17,408.20 L166.17,408.20Z" fill="#0000e8"/>
<path d="M177.88,402.00 L180.88,407.60 L174.88,407.60Z" fill="#0000e8"/>
<path d="M186.58,408.10 L189.58,413.70 L183.58,413.70Z" fill="#0000e8"/>
<path d="M199.63,412.88V418.12" stroke="#0000e8" stroke-width="1"/>
<path d="M198.23,412.88H201.03M198.23,418.12H201.03" stroke="#0000e8" stroke-width="1"/>
<path d="M199.63,412.30 L202.63,417.90 L196.63,417.90Z" fill="#0000e8"/>
<path d="M217.04,395.54V401.66" stroke="#0000e8" stroke-width="1"/>
<path d="M215.64,395.54H218.44M215.64,401.66H218.44" stroke="#0000e8" stroke-width="1"/>
<path d="M217.04,395.40 L220.04,401.00 L214.04,401.00Z" fill="#0000e8"/>
<path d="M234.44,400.57V408.43" stroke="#0000e8" stroke-width="1"/>
<path d="M233.04,400.57H235.84M233.04,408.43H235.84" stroke="#0000e8" stroke-width="1"/>
<path d="M234.44,401.30 L237.44,406.90 L231.44,406.90Z" fill="#0000e8"/>
<path d="M251.85,402.53V411.26" stroke="#0000e8" stroke-width="1"/>
<path d="M250.45,402.53H253.25M250.45,411.26H253.25" stroke="#0000e8" stroke-width="1"/>
<path d="M251.85,403.70 L254.85,409.30 L248.85,409.30Z" fill="#0000e8"/>
<path d="M269.25,377.17V385.03" stroke="#0000e8" stroke-width="1"/>
<path d="M267.85,377.17H270.65M267.85,385.03H270.65" stroke="#0000e8" stroke-width="1"/>
<path d="M269.25,377.90 L272.25,383.50 L266.25,383.50Z" fill="#0000e8"/>
<path d="M286.66,356.14V371.86" stroke="#0000e8" stroke-width="1"/>
<path d="M285.26,356.14H288.06M285.26,371.86H288.06" stroke="#0000e8" stroke-width="1"/>
<path d="M286.66,360.80 L289.66,366.40 L283.66,366.40Z" fill="#0000e8"/>
<path d="M312.76,391.61V398.59" stroke="#0000e8" stroke-width="1"/>
<path d="M311.37,391.61H314.16M311.37,398.59H314.16" stroke="#0000e8" stroke-width="1"/>
<path d="M312.76,391.90 L315.76,397.50 L309.76,397.50Z" fill="#0000e8"/>
<path d="M347.58,373.32V390.08" stroke="#0000e8" stroke-width="1"/>
<path d="M346.18,373.32H348.98M346.18,390.08H348.98" stroke="#0000e8" stroke-width="1"/>
<path d="M347.58,378.50 L350.58,384.10 L344.58,384.10Z" fill="#0000e8"/>
<polyline points="56.04,393.70 64.74,398.20 73.45,404.40 82.15,409.80 90.85,415.20 99.55,416.80 108.26,423.20 116.96,424.40 125.66,423.50 134.36,424.10 143.07,427.30 151.77,429.20 160.47,431.50 169.17,431.10 177.88,426.00 186.58,432.40 199.63,433.60 217.04,421.40 234.44,426.70 251.85,430.20 269.25,399.00 286.66,389.80 312.76,418.10 347.58,400.60" fill="none" stroke="#169fc4" stroke-width="1.05" stroke-dasharray="3.5,1.5,1,1.5"/>
<path d="M56.04,396.90 L59.04,391.30 L53.04,391.30Z" fill="#169fc4"/>
<path d="M64.74,401.40 L67.74,395.80 L61.74,395.80Z" fill="#169fc4"/>
<path d="M73.45,407.60 L76.45,402.00 L70.45,402.00Z" fill="#169fc4"/>
<path d="M82.15,413.00 L85.15,407.40 L79.15,407.40Z" fill="#169fc4"/>
<path d="M90.85,418.40 L93.85,412.80 L87.85,412.80Z" fill="#169fc4"/>
<path d="M99.55,420.00 L102.55,414.40 L96.55,414.40Z" fill="#169fc4"/>
<path d="M108.26,426.40 L111.26,420.80 L105.26,420.80Z" fill="#169fc4"/>
<path d="M116.96,427.60 L119.96,422.00 L113.96,422.00Z" fill="#169fc4"/>
<path d="M125.66,426.70 L128.66,421.10 L122.66,421.10Z" fill="#169fc4"/>
<path d="M134.36,427.30 L137.36,421.70 L131.36,421.70Z" fill="#169fc4"/>
<path d="M143.07,430.50 L146.07,424.90 L140.07,424.90Z" fill="#169fc4"/>
<path d="M151.77,432.40 L154.77,426.80 L148.77,426.80Z" fill="#169fc4"/>
<path d="M160.47,434.70 L163.47,429.10 L157.47,429.10Z" fill="#169fc4"/>
<path d="M169.17,434.30 L172.17,428.70 L166.17,428.70Z" fill="#169fc4"/>
<path d="M177.88,429.20 L180.88,423.60 L174.88,423.60Z" fill="#169fc4"/>
<path d="M186.58,435.60 L189.58,430.00 L183.58,430.00Z" fill="#169fc4"/>
<path d="M199.63,430.98V436.22" stroke="#169fc4" stroke-width="1" stroke-dasharray="3.5,1.5,1,1.5"/>
<path d="M198.23,430.98H201.03M198.23,436.22H201.03" stroke="#169fc4" stroke-width="1"/>
<path d="M199.63,436.80 L202.63,431.20 L196.63,431.20Z" fill="#169fc4"/>
<path d="M217.04,418.34V424.46" stroke="#169fc4" stroke-width="1" stroke-dasharray="3.5,1.5,1,1.5"/>
<path d="M215.64,418.34H218.44M215.64,424.46H218.44" stroke="#169fc4" stroke-width="1"/>
<path d="M217.04,424.60 L220.04,419.00 L214.04,419.00Z" fill="#169fc4"/>
<path d="M234.44,422.77V430.63" stroke="#169fc4" stroke-width="1" stroke-dasharray="3.5,1.5,1,1.5"/>
<path d="M233.04,422.77H235.84M233.04,430.63H235.84" stroke="#169fc4" stroke-width="1"/>
<path d="M234.44,429.90 L237.44,424.30 L231.44,424.30Z" fill="#169fc4"/>
<path d="M251.85,425.83V434.56" stroke="#169fc4" stroke-width="1" stroke-dasharray="3.5,1.5,1,1.5"/>
<path d="M250.45,425.83H253.25M250.45,434.56H253.25" stroke="#169fc4" stroke-width="1"/>
<path d="M251.85,433.40 L254.85,427.80 L248.85,427.80Z" fill="#169fc4"/>
<path d="M269.25,393.41V404.59" stroke="#169fc4" stroke-width="1" stroke-dasharray="3.5,1.5,1,1.5"/>
<path d="M267.85,393.41H270.65M267.85,404.59H270.65" stroke="#169fc4" stroke-width="1"/>
<path d="M269.25,402.20 L272.25,396.60 L266.25,396.60Z" fill="#169fc4"/>
<path d="M286.66,381.07V398.53" stroke="#169fc4" stroke-width="1" stroke-dasharray="3.5,1.5,1,1.5"/>
<path d="M285.26,381.07H288.06M285.26,398.53H288.06" stroke="#169fc4" stroke-width="1"/>
<path d="M286.66,393.00 L289.66,387.40 L283.66,387.40Z" fill="#169fc4"/>
<path d="M312.76,411.99V424.21" stroke="#169fc4" stroke-width="1" stroke-dasharray="3.5,1.5,1,1.5"/>
<path d="M311.37,411.99H314.16M311.37,424.21H314.16" stroke="#169fc4" stroke-width="1"/>
<path d="M312.76,421.30 L315.76,415.70 L309.76,415.70Z" fill="#169fc4"/>
<path d="M347.58,395.62V405.58" stroke="#169fc4" stroke-width="1" stroke-dasharray="3.5,1.5,1,1.5"/>
<path d="M346.18,395.62H348.98M346.18,405.58H348.98" stroke="#169fc4" stroke-width="1"/>
<path d="M347.58,403.80 L350.58,398.20 L344.58,398.20Z" fill="#169fc4"/>
<polyline points="56.04,423.80 64.74,449.70 73.45,465.00 82.15,471.50 90.85,474.70 99.55,473.10 108.26,473.50 116.96,469.40 125.66,466.00 134.36,460.30 143.07,455.90 151.77,460.30 160.47,455.30 169.17,448.60 177.88,448.30 186.58,445.10 199.63,449.50 217.04,432.10 234.44,433.60 251.85,435.90 269.25,406.60 286.66,402.40 312.76,424.20 347.58,408.40" fill="none" stroke="#ff0000" stroke-width="1.05" stroke-dasharray="1.2,1.3"/>
<path d="M56.04,420.80 L58.49,423.80 L56.04,426.80 L53.59,423.80Z" fill="#ff0000"/>
<path d="M64.74,446.70 L67.19,449.70 L64.74,452.70 L62.29,449.70Z" fill="#ff0000"/>
<path d="M73.45,462.00 L75.90,465.00 L73.45,468.00 L71.00,465.00Z" fill="#ff0000"/>
<path d="M82.15,468.50 L84.60,471.50 L82.15,474.50 L79.70,471.50Z" fill="#ff0000"/>
<path d="M90.85,471.70 L93.30,474.70 L90.85,477.70 L88.40,474.70Z" fill="#ff0000"/>
<path d="M99.55,470.10 L102.00,473.10 L99.55,476.10 L97.10,473.10Z" fill="#ff0000"/>
<path d="M108.26,470.50 L110.71,473.50 L108.26,476.50 L105.81,473.50Z" fill="#ff0000"/>
<path d="M116.96,466.40 L119.41,469.40 L116.96,472.40 L114.51,469.40Z" fill="#ff0000"/>
<path d="M125.66,463.00 L128.11,466.00 L125.66,469.00 L123.21,466.00Z" fill="#ff0000"/>
<path d="M134.36,457.30 L136.81,460.30 L134.36,463.30 L131.91,460.30Z" fill="#ff0000"/>
<path d="M143.07,452.90 L145.52,455.90 L143.07,458.90 L140.62,455.90Z" fill="#ff0000"/>
<path d="M151.77,457.30 L154.22,460.30 L151.77,463.30 L149.32,460.30Z" fill="#ff0000"/>
<path d="M160.47,452.30 L162.92,455.30 L160.47,458.30 L158.02,455.30Z" fill="#ff0000"/>
<path d="M169.17,445.60 L171.62,448.60 L169.17,451.60 L166.72,448.60Z" fill="#ff0000"/>
<path d="M177.88,445.30 L180.33,448.30 L177.88,451.30 L175.43,448.30Z" fill="#ff0000"/>
<path d="M186.58,442.10 L189.03,445.10 L186.58,448.10 L184.13,445.10Z" fill="#ff0000"/>
<path d="M199.63,446.50 L202.08,449.50 L199.63,452.50 L197.18,449.50Z" fill="#ff0000"/>
<path d="M217.04,429.10 L219.49,432.10 L217.04,435.10 L214.59,432.10Z" fill="#ff0000"/>
<path d="M234.44,430.85V436.35" stroke="#ff0000" stroke-width="1" stroke-dasharray="1.2,1.3"/>
<path d="M233.04,430.85H235.84M233.04,436.35H235.84" stroke="#ff0000" stroke-width="1"/>
<path d="M234.44,430.60 L236.89,433.60 L234.44,436.60 L231.99,433.60Z" fill="#ff0000"/>
<path d="M251.85,432.84V438.96" stroke="#ff0000" stroke-width="1" stroke-dasharray="1.2,1.3"/>
<path d="M250.45,432.84H253.25M250.45,438.96H253.25" stroke="#ff0000" stroke-width="1"/>
<path d="M251.85,432.90 L254.30,435.90 L251.85,438.90 L249.40,435.90Z" fill="#ff0000"/>
<path d="M269.25,402.67V410.53" stroke="#ff0000" stroke-width="1" stroke-dasharray="1.2,1.3"/>
<path d="M267.85,402.67H270.65M267.85,410.53H270.65" stroke="#ff0000" stroke-width="1"/>
<path d="M269.25,403.60 L271.70,406.60 L269.25,409.60 L266.80,406.60Z" fill="#ff0000"/>
<path d="M286.66,397.86V406.94" stroke="#ff0000" stroke-width="1" stroke-dasharray="1.2,1.3"/>
<path d="M285.26,397.86H288.06M285.26,406.94H288.06" stroke="#ff0000" stroke-width="1"/>
<path d="M286.66,399.40 L289.11,402.40 L286.66,405.40 L284.21,402.40Z" fill="#ff0000"/>
<path d="M312.76,420.01V428.39" stroke="#ff0000" stroke-width="1" stroke-dasharray="1.2,1.3"/>
<path d="M311.37,420.01H314.16M311.37,428.39H314.16" stroke="#ff0000" stroke-width="1"/>
<path d="M312.76,421.20 L315.21,424.20 L312.76,427.20 L310.31,424.20Z" fill="#ff0000"/>
<path d="M347.58,404.21V412.59" stroke="#ff0000" stroke-width="1" stroke-dasharray="1.2,1.3"/>
<path d="M346.18,404.21H348.98M346.18,412.59H348.98" stroke="#ff0000" stroke-width="1"/>
<path d="M347.58,405.40 L350.03,408.40 L347.58,411.40 L345.13,408.40Z" fill="#ff0000"/>
</g>
<path d="M45.7,317.2H371.1V477.8H45.7Z M45.7,477.58h5M371.1,477.58h-5 M45.7,458.10h7M371.1,458.10h-7 M45.7,442.19h5M371.1,442.19h-5 M45.7,428.73h5M371.1,428.73h-5 M45.7,417.08h5M371.1,417.08h-5 M45.7,406.80h5M371.1,406.80h-5 M45.7,397.60h7M371.1,397.60h-7 M45.7,389.28h5M371.1,389.28h-5 M45.7,381.69h5M371.1,381.69h-5 M45.7,374.70h5M371.1,374.70h-5 M45.7,368.23h5M371.1,368.23h-5 M45.7,362.21h5M371.1,362.21h-5 M45.7,356.58h5M371.1,356.58h-5 M45.7,351.29h5M371.1,351.29h-5 M45.7,346.30h5M371.1,346.30h-5 M45.7,341.58h5M371.1,341.58h-5 M45.7,337.10h7M371.1,337.10h-7 M45.7,332.84h5M371.1,332.84h-5 M45.7,328.78h5M371.1,328.78h-5 M45.7,324.90h5M371.1,324.90h-5 M45.7,321.19h5M371.1,321.19h-5 M51.69,317.2v2.5M51.69,477.8v-2.5 M69.09,317.2v2.5M69.09,477.8v-2.5 M86.50,317.2v4.6M86.50,477.8v-4.6 M103.91,317.2v2.5M103.91,477.8v-2.5 M121.31,317.2v2.5M121.31,477.8v-2.5 M138.72,317.2v2.5M138.72,477.8v-2.5 M156.12,317.2v4.6M156.12,477.8v-4.6 M173.53,317.2v2.5M173.53,477.8v-2.5 M190.93,317.2v2.5M190.93,477.8v-2.5 M208.34,317.2v2.5M208.34,477.8v-2.5 M225.74,317.2v4.6M225.74,477.8v-4.6 M243.15,317.2v2.5M243.15,477.8v-2.5 M260.55,317.2v2.5M260.55,477.8v-2.5 M277.96,317.2v2.5M277.96,477.8v-2.5 M295.36,317.2v4.6M295.36,477.8v-4.6 M312.76,317.2v2.5M312.76,477.8v-2.5 M330.17,317.2v2.5M330.17,477.8v-2.5 M347.58,317.2v2.5M347.58,477.8v-2.5 M364.98,317.2v4.6M364.98,477.8v-4.6" fill="none" stroke="#000" stroke-width="1.1"/>
<text x="38.9" y="341.00" font-size="10.9" text-anchor="end">2</text>
<text x="374.3" y="341.00" font-size="10.9">2</text>
<text x="38.9" y="401.50" font-size="10.9" text-anchor="end">1</text>
<text x="374.3" y="401.50" font-size="10.9">1</text>
<text x="38.9" y="462.00" font-size="10.9" text-anchor="end">0.5</text>
<text x="374.3" y="462.00" font-size="10.9">0.5</text>
<text x="86.50" y="489.1" font-size="10.9" text-anchor="middle">2</text>
<text x="156.12" y="489.1" font-size="10.9" text-anchor="middle">4</text>
<text x="225.74" y="489.1" font-size="10.9" text-anchor="middle">6</text>
<text x="295.36" y="489.1" font-size="10.9" text-anchor="middle">8</text>
<text x="364.98" y="489.1" font-size="10.9" text-anchor="middle">10</text>
<text x="50.9" y="14" font-size="12" textLength="64.7" lengthAdjust="spacingAndGlyphs">900 GeV pp</text>
<text x="275.6" y="14" font-size="12" textLength="91.4" lengthAdjust="spacingAndGlyphs">Underlying Event</text>
<text x="79.8" y="39.8" font-size="11.7" textLength="57.3" lengthAdjust="spacingAndGlyphs">Transverse</text>
<path transform="translate(141.6,27.6)" d="M0,0 H13.8 L14.3,4.2 H13.6 Q12.9,1.8 10.0,1.7 H5.0 L10.6,9.6 L2.6,16.9 H11.2 Q13.6,16.9 14.4,14.0 H15.1 L14.1,18.8 H-0.3 L7.6,9.8 Z" fill="#000"/>
<text x="159.4" y="40.6" font-size="12.6">p</text>
<text x="166.2" y="50.6" font-size="8.4">T</text>
<text x="174.2" y="40.3" font-size="12" textLength="56.6" lengthAdjust="spacingAndGlyphs">density vs.</text>
<text x="234.6" y="40.6" font-size="12.6">p</text>
<text x="239.8" y="34.1" font-size="7.4" textLength="11.5" lengthAdjust="spacingAndGlyphs">trk1</text>
<text x="240.0" y="47.1" font-size="8.4">T</text>
<text x="251.2" y="40.3" font-size="11.7">,</text>
<path d="M258.0,35.9 L259.5,35.0 L261.6,40.6 L263.7,29.7 H270.2" fill="none" stroke="#1a1a1a" stroke-width="1.1"/>
<text x="263.2" y="40.3" font-size="11.7">s</text>
<text x="273.2" y="40.3" font-size="11.7" textLength="6" lengthAdjust="spacingAndGlyphs">=</text>
<text x="283.3" y="40.3" font-size="11.7" textLength="54.7" lengthAdjust="spacingAndGlyphs">{900 GeV}</text>
<rect x="73.90" y="59.50" width="5.2" height="5.2" fill="#000"/>
<text x="93.8" y="65.10" font-size="9.9" textLength="29.6" lengthAdjust="spacingAndGlyphs">ATLAS</text>
<path d="M64,75.00H88" stroke="#b4601e" stroke-width="1" stroke-dasharray="3,2"/>
<circle cx="76.50" cy="75.00" r="2.5" fill="none" stroke="#b4601e" stroke-width="1.1"/>
<text x="93.8" y="78.00" font-size="9.9" textLength="94.2" lengthAdjust="spacingAndGlyphs">Herwig++ 2.7.1 default</text>
<path d="M64,88.00H88" stroke="#2f8f10" stroke-width="1" stroke-dasharray="3,2.5"/>
<rect x="74.00" y="85.50" width="5" height="5" fill="none" stroke="#2f8f10" stroke-width="1.1"/>
<text x="93.8" y="91.00" font-size="9.9" textLength="84" lengthAdjust="spacingAndGlyphs">Herwig 7.2.1 default</text>
<path d="M64,101.00H88" stroke="#0000e8" stroke-width="1"/>
<path d="M76.50,98.00 L79.50,103.60 L73.50,103.60Z" fill="#0000e8"/>
<text x="93.8" y="103.80" font-size="9.9" textLength="83.9" lengthAdjust="spacingAndGlyphs">Pythia 8.315 default</text>
<path d="M64,114.00H88" stroke="#169fc4" stroke-width="1" stroke-dasharray="3.5,1.5,1,1.5"/>
<path d="M76.50,117.60 L79.50,112.00 L73.50,112.00Z" fill="#169fc4"/>
<text x="93.8" y="116.80" font-size="9.9" textLength="111.4" lengthAdjust="spacingAndGlyphs">Pythia 8.315 vincia-default</text>
<path d="M64,127.00H88" stroke="#ff0000" stroke-width="1" stroke-dasharray="1.2,1.3"/>
<path d="M76.50,124.30 L78.95,127.30 L76.50,130.30 L74.05,127.30Z" fill="#ff0000"/>
<text x="93.8" y="129.40" font-size="9.9" textLength="84.5" lengthAdjust="spacingAndGlyphs">Sherpa 2.2.9 default</text>
<text x="164.7" y="301.9" font-size="8" fill="#b4b4b4" textLength="86" lengthAdjust="spacingAndGlyphs">(ATLAS_2010_I879407)</text>
<text transform="translate(380.0,126.6) rotate(-90)" font-size="9.2" fill="#7a7a7a" textLength="108.8" lengthAdjust="spacingAndGlyphs">Rivet 4.1.0, &#8805; 2.1M events</text>
<text transform="translate(381.2,313.6) rotate(-90)" font-size="9.2" fill="#7a7a7a" textLength="154.3" lengthAdjust="spacingAndGlyphs">mcplots.cern.ch [arXiv:1306.3436]</text>
<g transform="translate(14,144) rotate(-90)"><text x="0.3" y="-0.5" font-size="12.5" textLength="6.4" lengthAdjust="spacingAndGlyphs">#</text><path d="M10.2,-9.9 L7.1,-4.5 L10.2,1.0" fill="none" stroke="#000" stroke-width="0.85"/><text x="10.8" y="-0.5" font-size="12.5" textLength="6.8" lengthAdjust="spacingAndGlyphs">d</text><text x="15.9" y="-7.0" font-size="7.6" textLength="4.8" lengthAdjust="spacingAndGlyphs">2</text><path transform="translate(24.6,-12.8) scale(0.94,0.975)" d="M0,0 H13.8 L14.3,4.2 H13.6 Q12.9,1.8 10.0,1.7 H5.0 L10.6,9.6 L2.6,16.9 H11.2 Q13.6,16.9 14.4,14.0 H15.1 L14.1,18.8 H-0.3 L7.6,9.8 Z" fill="#000"/><text x="41.8" y="-1.0" font-size="13.5" textLength="7.3" lengthAdjust="spacingAndGlyphs">p</text><text x="49.0" y="9.8" font-size="8.2" textLength="5.0" lengthAdjust="spacingAndGlyphs">T</text><text x="54.2" y="-0.4" font-size="12.5" textLength="35" lengthAdjust="spacingAndGlyphs">/d&#951;d&#966;#</text><path d="M89.4,-9.9 L94.1,-4.5 L89.4,1.0" fill="none" stroke="#000" stroke-width="0.85"/><text x="97.6" y="-0.4" font-size="12.5" textLength="30.8" lengthAdjust="spacingAndGlyphs">[GeV]</text></g>
<text transform="translate(18.3,428) rotate(-90)" font-size="9.8" textLength="61.7" lengthAdjust="spacingAndGlyphs">Ratio to ATLAS</text>
<text x="243.1" y="501" font-size="12.8" textLength="6.6" lengthAdjust="spacingAndGlyphs">p</text>
<text x="250.2" y="507.8" font-size="7.8">T</text>
<text x="258.2" y="501" font-size="12.8" textLength="115" lengthAdjust="spacingAndGlyphs">(leading track) [GeV]</text>
</svg></body></html>
